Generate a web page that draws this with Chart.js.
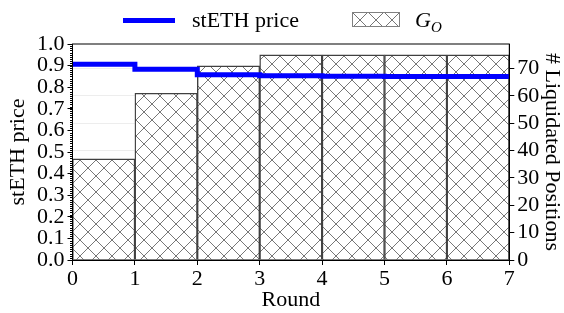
<!DOCTYPE html>
<html>
<head>
<meta charset="utf-8">
<script src="https://cdn.jsdelivr.net/npm/chart.js@4/dist/chart.umd.min.js"></script>
<style>
    html, body { margin: 0; padding: 0; background: #fff; }
    #wrap { position: relative; width: 564px; height: 313px; }
    #legend { position: absolute; left: 0; top: 0; width: 564px; height: 40px; font-family: "Liberation Serif", serif; font-size: 22px; color: #000; }
    #legend .item { position: absolute; top: 8px; line-height: 24px; white-space: nowrap; }
    #legend sub { font-size: 15px; vertical-align: -5px; }
</style>
</head>
<body>
<div id="wrap">
    <canvas id="chart" width="564" height="313"></canvas>
    <div id="legend">
        <div style="position:absolute;left:123px;top:18px;width:52px;height:5px;background:#0000ff;"></div>
        <div class="item" style="left:192px;">stETH price</div>
        <canvas id="swatch" width="48" height="15" style="position:absolute;left:352px;top:12px;"></canvas>
        <div class="item" style="left:415px;"><i>G</i><sub><i>O</i></sub></div>
    </div>
</div>
<script>
/* ----- D A T A ----- */
const ROUNDS = ["0-1", "1-2", "2-3", "3-4", "4-5", "5-6", "6-7"];
const ROUND_TICKS = [0, 1, 2, 3, 4, 5, 6, 7];
const STETH_PRICE = [0.906, 0.883, 0.858, 0.853, 0.851, 0.850, 0.849];
const LIQUIDATED = [37, 61, 71, 75, 75, 75, 75];

const FONT = "Liberation Serif";

// cross hatch like matplotlib "xx"
function makeHatch(size) {
    const c = document.createElement("canvas");
    c.width = size; c.height = size;
    const g = c.getContext("2d");
    g.fillStyle = "#ffffff";
    g.fillRect(0, 0, size, size);
    g.strokeStyle = "#777777";
    g.lineWidth = 1;
    g.beginPath();
    g.moveTo(-1, -1); g.lineTo(size + 1, size + 1);
    g.moveTo(-1, size + 1); g.lineTo(size + 1, -1);
    g.stroke();
    return g.createPattern(c, "repeat");
}

const ctx = document.getElementById("chart").getContext("2d");
const hatch = makeHatch(16);

// legend swatch
(function () {
    const sw = document.getElementById("swatch").getContext("2d");
    sw.fillStyle = makeHatch(16);
    sw.fillRect(0, 0, 48, 15);
    sw.strokeStyle = "#808080";
    sw.lineWidth = 1;
    sw.strokeRect(0.5, 0.5, 47, 14);
})();

// price as step points: value held during each round
const pricePoints = ROUND_TICKS.map((r, i) => ({ x: r, y: STETH_PRICE[Math.min(i, STETH_PRICE.length - 1)] }));

const framePlugin = {
    id: "frame",
    afterDraw(chart) {
        const { ctx, chartArea: a, scales } = chart;
        ctx.save();
        ctx.strokeStyle = "#000";
        ctx.lineWidth = 1;
        ctx.strokeRect(a.left, a.top, a.right - a.left, a.bottom - a.top);
        // minor ticks on left axis
        ctx.beginPath();
        for (let i = 0; i <= 100; i++) {
            const y = Math.round(scales.y.getPixelForValue(i / 100)) + 0.5;
            ctx.moveTo(a.left - 2.5, y);
            ctx.lineTo(a.left, y);
        }
        ctx.stroke();
        ctx.restore();
    }
};

const tickFont = { family: FONT, size: 22, lineHeight: 1 };

new Chart(ctx, {
    type: "line",
    data: {
        labels: ROUNDS,
        datasets: [
            {
                type: "line",
                label: "stETH price",
                data: pricePoints,
                xAxisID: "x",
                yAxisID: "y",
                borderColor: "#0000ff",
                borderWidth: 5,
                pointRadius: 0,
                stepped: "before",
                fill: false,
                order: 0
            },
            {
                type: "bar",
                label: "G_O",
                data: LIQUIDATED,
                xAxisID: "xb",
                yAxisID: "y2",
                backgroundColor: hatch,
                borderColor: "#404040",
                borderWidth: 1.4,
                barPercentage: 1,
                categoryPercentage: 1,
                grouped: false,
                order: 1
            }
        ]
    },
    options: {
        responsive: false,
        animation: false,
        layout: { padding: { top: 44, left: 0, right: 0, bottom: 0 } },
        plugins: { legend: { display: false }, tooltip: { enabled: false } },
        scales: {
            x: {
                type: "linear",
                position: "bottom",
                offset: false,
                min: 0,
                max: 7,
                ticks: { stepSize: 1, color: "#000", font: tickFont, padding: 3, autoSkip: false },
                grid: { display: true, offset: false, drawOnChartArea: false, drawTicks: true, tickLength: 5, tickColor: "#000" },
                border: { display: true, color: "#000" },
                title: { display: true, text: "Round", color: "#000", font: tickFont, padding: { top: 2, bottom: 2 } },
                afterFit: (s) => { s.height = 53; }
            },
            xb: {
                type: "category",
                display: false,
                offset: true,
                grid: { offset: true }
            },
            y: {
                position: "left",
                min: 0,
                max: 1,
                ticks: { stepSize: 0.1, color: "#000", font: tickFont, padding: 3, autoSkip: false, callback: (v) => v.toFixed(1) },
                grid: { display: true, drawOnChartArea: false, drawTicks: true, tickLength: 5, tickColor: "#000" },
                border: { display: true, color: "#000" },
                title: { display: true, text: "stETH price", color: "#000", font: tickFont, padding: { top: 7, bottom: 2 } },
                afterFit: (s) => { s.width = 72.5; }
            },
            y2: {
                position: "right",
                min: 0,
                max: 79,
                ticks: { stepSize: 10, includeBounds: false, color: "#000", font: tickFont, padding: 3, autoSkip: false },
                grid: { display: true, drawOnChartArea: true, color: "rgba(0,0,0,0.07)", drawTicks: true, tickLength: 5, tickColor: "#000" },
                border: { display: true, color: "#000" },
                title: { display: true, text: "# Liquidated Positions", color: "#000", font: tickFont, padding: { top: 1, bottom: 2 } },
                afterFit: (s) => { s.width = 54.7; }
            }
        }
    },
    plugins: [framePlugin]
});
</script>
</body>
</html>
